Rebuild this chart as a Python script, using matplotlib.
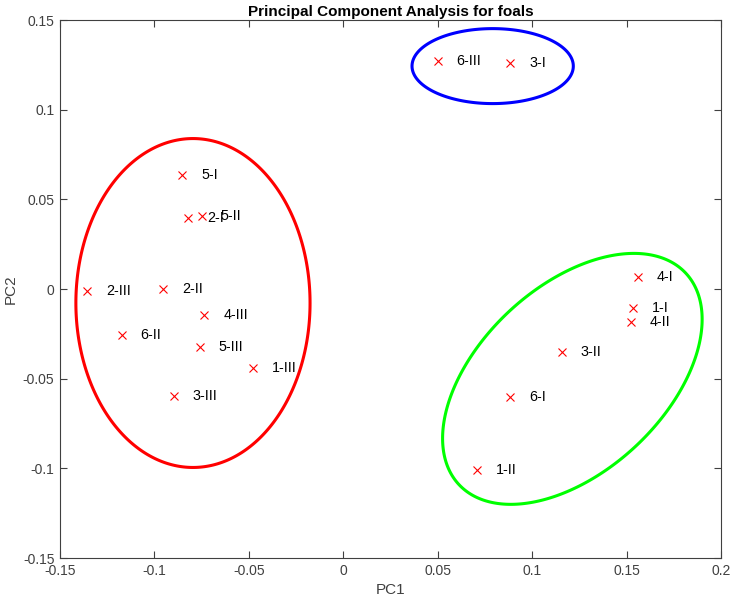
import numpy as np
import matplotlib
matplotlib.use("Agg")
import matplotlib.pyplot as plt
from matplotlib.patches import Polygon

plt.rcParams['font.family'] = ['Liberation Sans', 'DejaVu Sans']

# PCA scores for each foal sample
labels = ['6-III', '3-I', '5-I', '2-I', '5-II', '2-III', '2-II', '4-III', '6-II',
          '5-III', '1-III', '3-III', '4-I', '1-I', '4-II', '3-II', '6-I', '1-II']
pc1 = [0.0500, 0.0885, -0.0853, -0.0820, -0.0750, -0.1357, -0.0953, -0.0736, -0.1173,
       -0.0760, -0.0478, -0.0896, 0.1559, 0.1532, 0.1524, 0.1157, 0.0885, 0.0710]
pc2 = [0.1270, 0.1262, 0.0635, 0.0394, 0.0406, -0.0011, 0.0000, -0.0145, -0.0256,
       -0.0323, -0.0438, -0.0594, 0.0065, -0.0107, -0.0182, -0.0352, -0.0603, -0.1008]

# cluster outlines: centre (x, y) and the two axis vectors of each ellipse
red_centre = (-0.0796, -0.0078)
red_axes = ((0.0620, 0.0), (0.0, 0.0917))
blue_centre = (0.0791, 0.1243)
blue_axes = ((0.0427, 0.0), (0.0, 0.0209))
green_centre = (0.1213, -0.0501)
green_axes = ((0.0600, 0.0590), (-0.0335, 0.0376))

axcol = '#404040'

fig = plt.figure(figsize=(7.31, 6.01), dpi=100)
ax = fig.add_axes([0.0821, 0.0715, 0.9042, 0.8952])

ax.plot(pc1, pc2, 'x', color='red', markersize=5.5, markeredgewidth=0.8)
for lab, x, y in zip(labels, pc1, pc2):
    ax.text(x + 0.01, y, lab, fontsize=10.3, va='center', ha='left', color='black')

t = np.linspace(0, 2 * np.pi, 400, endpoint=False)
for centre, axes_vec, col in [(red_centre, red_axes, 'red'),
                              (blue_centre, blue_axes, 'blue'),
                              (green_centre, green_axes, '#00ff00')]:
    u, v = axes_vec
    ex = centre[0] + u[0] * np.cos(t) + v[0] * np.sin(t)
    ey = centre[1] + u[1] * np.cos(t) + v[1] * np.sin(t)
    ax.add_patch(Polygon(np.column_stack([ex, ey]), closed=True, fill=False,
                         edgecolor=col, linewidth=2.2))

ax.set_xlim(-0.15, 0.2)
ax.set_ylim(-0.15, 0.15)
ax.set_xticks(np.arange(-0.15, 0.201, 0.05))
ax.set_yticks(np.arange(-0.15, 0.151, 0.05))
ax.set_xticklabels(['-0.15', '-0.1', '-0.05', '0', '0.05', '0.1', '0.15', '0.2'])
ax.set_yticklabels(['-0.15', '-0.1', '-0.05', '0', '0.05', '0.1', '0.15'])
ax.tick_params(direction='in', length=5, width=0.8, colors=axcol, labelsize=10,
               top=True, right=True, pad=4)
for s in ax.spines.values():
    s.set_color(axcol)
    s.set_linewidth(0.8)

ax.set_xlabel('PC1', fontsize=11, color=axcol, labelpad=4)
ax.set_ylabel('PC2', fontsize=11, color=axcol, labelpad=4)
ax.set_title('Principal Component Analysis for foals', fontsize=11, fontweight='bold', pad=3)

fig.savefig('out.png', dpi=100)
